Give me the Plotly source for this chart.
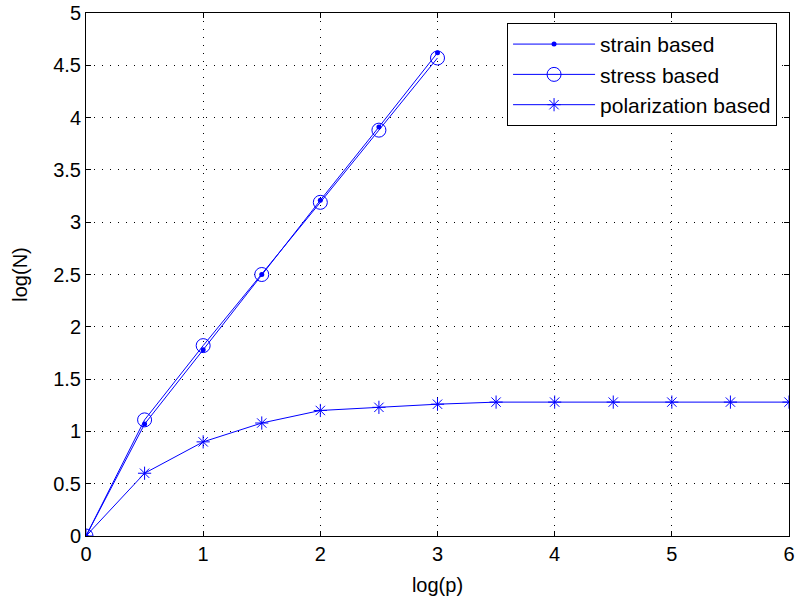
import plotly.graph_objects as go

x_vals = [0, 0.5, 1, 1.5, 2, 2.5, 3]
strain = [0, 1.07, 1.78, 2.50, 3.21, 3.91, 4.62]
stress = [0, 1.11, 1.82, 2.50, 3.19, 3.88, 4.57]
x_pol = [0, 0.5, 1, 1.5, 2, 2.5, 3, 3.5, 4, 4.5, 5, 5.5, 6]
polarization = [0, 0.60, 0.90, 1.08, 1.20, 1.23, 1.26, 1.28, 1.28, 1.28, 1.28, 1.28, 1.28]

x_ticks = [0, 1, 2, 3, 4, 5, 6]
y_ticks = [0, 0.5, 1, 1.5, 2, 2.5, 3, 3.5, 4, 4.5, 5]
y_labels = ["0", "0.5", "1", "1.5", "2", "2.5", "3", "3.5", "4", "4.5", "5"]

FONT = "Liberation Sans, Arial, Helvetica"
blue = "rgb(0,0,255)"
fig = go.Figure()
fig.add_trace(go.Scatter(x=x_vals, y=strain, name="strain based", mode="lines+markers",
                         line=dict(color=blue, width=1),
                         marker=dict(symbol="circle", size=5, color=blue)))
fig.add_trace(go.Scatter(x=x_vals, y=stress, name="stress based", mode="lines+markers",
                         line=dict(color=blue, width=1),
                         marker=dict(symbol="circle-open", size=14, color=blue, line=dict(width=1, color=blue))))
fig.add_trace(go.Scatter(x=x_pol, y=polarization, name="polarization based", mode="lines+markers",
                         line=dict(color=blue, width=1),
                         marker=dict(symbol="asterisk-open", size=11, color=blue, line=dict(width=1, color=blue))))

axis_common = dict(showline=True, linecolor="black", linewidth=1, mirror="ticks",
                   ticks="inside", ticklen=5, tickcolor="black", automargin=False,
                   showgrid=True, gridcolor="black", gridwidth=1, griddash="1px,7px",
                   zeroline=False, tickfont=dict(family=FONT, size=20, color="black"))

fig.update_xaxes(range=[0, 6], tickvals=x_ticks, ticktext=[str(v) for v in x_ticks],
                 title=dict(text="log(p)", font=dict(family=FONT, size=20, color="black"), standoff=13),
                 **axis_common)
fig.update_yaxes(range=[0, 5], tickvals=y_ticks, ticktext=y_labels,
                 title=dict(text="log(N)", font=dict(family=FONT, size=20, color="black"), standoff=20),
                 **axis_common)

fig.update_layout(width=797, height=606, margin=dict(l=86, r=8, t=13, b=70),
                  plot_bgcolor="white", paper_bgcolor="white",
                  font=dict(family=FONT, size=20, color="black"),
                  legend=dict(x=0.983, y=0.981, xanchor="right", yanchor="top",
                              bgcolor="white", bordercolor="black", borderwidth=1,
                              font=dict(family=FONT, size=21), itemwidth=82, tracegroupgap=0))

# remove the default 8px body margin so the figure fills the window exactly
fig.write_html("out.html", config={"displayModeBar": False},
               post_script="document.body.style.margin='0';document.body.style.overflow='hidden';")
